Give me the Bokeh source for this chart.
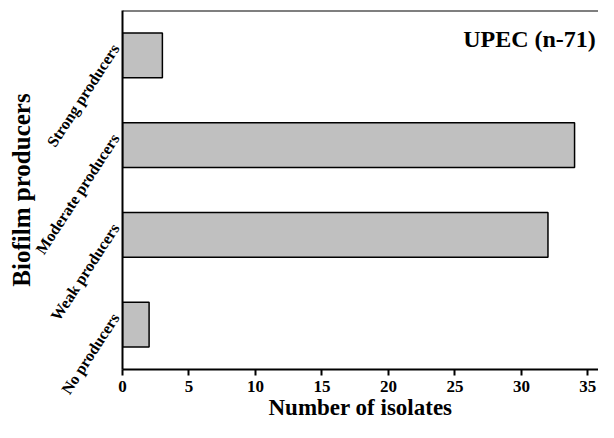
import math
from bokeh.plotting import figure
from bokeh.models import Label, Span, FixedTicker, Range1d, LinearAxis
from bokeh.embed import file_html
from bokeh.resources import INLINE

categories = ["No producers", "Weak producers", "Moderate producers", "Strong producers"]
counts = [2, 32, 34, 3]
x_ticks = [0, 5, 10, 15, 20, 25, 30, 35]
title_text = "UPEC (n-71)"
y_title = "Biofilm producers"
x_title = "Number of isolates"

FONT = "Liberation Serif"
LABEL_SHIFT = 0.11  # category labels sit a little above the bar centres

n = len(categories)
slots = [i + 0.5 for i in range(n)]  # one slot per category

p = figure(width=598, height=422, y_range=Range1d(0, n), x_range=Range1d(0, 35.8),
           output_backend="svg", toolbar_location=None,
           min_border_left=122, min_border_right=0, min_border_top=10, min_border_bottom=0)

p.hbar(y=slots, right=counts, left=0, height=0.5,
       fill_color="#c0c0c0", line_color="black", line_width=1.5)

p.outline_line_color = None
p.xgrid.visible = False
p.ygrid.visible = False
p.yaxis.visible = False

# top frame line
p.add_layout(Span(location=n, dimension="width", line_color="black", line_width=2))

# left axis carrying the category names
p.extra_y_ranges = {"lab": Range1d(start=-LABEL_SHIFT, end=n - LABEL_SHIFT)}
yax = LinearAxis(y_range_name="lab", ticker=FixedTicker(ticks=slots),
                 major_label_overrides={t: c for t, c in zip(slots, categories)})
yax.axis_line_color = "black"
yax.axis_line_width = 2
yax.major_tick_line_color = None
yax.minor_tick_line_color = None
yax.major_tick_out = 0
yax.major_tick_in = 0
yax.major_label_orientation = math.radians(57)
yax.major_label_text_font = FONT
yax.major_label_text_font_style = "bold"
yax.major_label_text_font_size = "16px"
yax.major_label_text_color = "black"
yax.major_label_standoff = 7
yax.axis_label = y_title
yax.axis_label_text_font = FONT
yax.axis_label_text_font_style = "bold"
yax.axis_label_text_font_size = "25px"
yax.axis_label_text_color = "black"
yax.axis_label_standoff = -13
p.add_layout(yax, "left")

ax = p.below[0]
ax.axis_line_color = "black"
ax.axis_line_width = 2
ax.major_label_text_font = FONT
ax.major_label_text_font_style = "bold"
ax.major_label_text_color = "black"
ax.axis_label_text_font = FONT
ax.axis_label_text_font_style = "bold"
ax.axis_label_text_color = "black"
ax.ticker = FixedTicker(ticks=x_ticks)
ax.major_tick_line_color = "black"
ax.major_tick_line_width = 2
ax.major_tick_out = 6
ax.major_tick_in = 0
ax.minor_tick_line_color = None
ax.major_label_text_font_size = "17px"
ax.major_label_standoff = 5
ax.axis_label = x_title
ax.axis_label_text_font_size = "23px"
ax.axis_label_standoff = 0

p.add_layout(Label(x=35.6, y=3.68, text=title_text, text_align="right",
                   text_baseline="middle", text_font=FONT, text_font_style="bold",
                   text_font_size="24px", text_color="black"))

open("out.html", "w").write(file_html(p, INLINE))
